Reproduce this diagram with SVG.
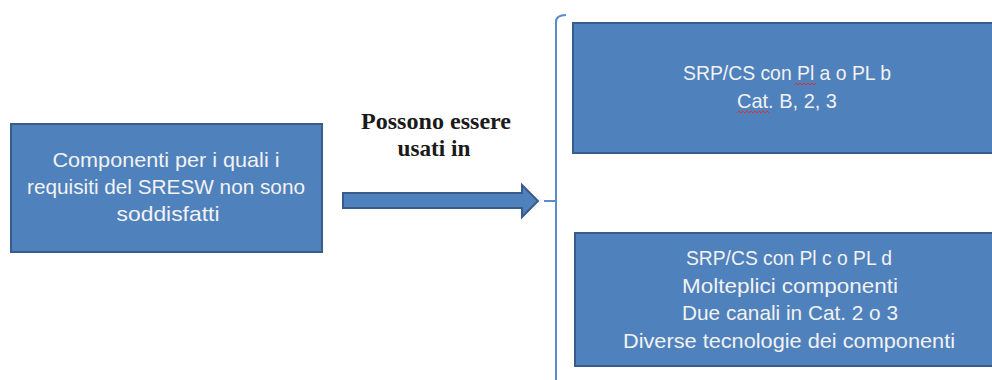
<svg xmlns="http://www.w3.org/2000/svg" width="992" height="380" viewBox="0 0 992 380">
  <style>
    .box { fill: #4f81bd; stroke: #385d8a; stroke-width: 2; }
    .lbl { font-family: "Liberation Sans", Arial, sans-serif; font-size: 21px; fill: #f2f2f2; text-anchor: middle; }
    .cap { font-family: "Liberation Serif", "Times New Roman", serif; font-size: 24px; font-weight: bold; fill: #1a1a1a; text-anchor: middle; }
    .brace { fill: none; stroke: #5b8cc8; stroke-width: 2; }
    .squig { fill: none; stroke: #e03030; stroke-width: 1; }
  </style>
  <rect width="992" height="380" fill="#ffffff"/>

  <g id="source">
    <rect class="box" x="11" y="124" width="311" height="128"/>
    <text class="lbl" x="166" y="167" textLength="227" lengthAdjust="spacingAndGlyphs">Componenti per i quali i</text>
    <text class="lbl" x="166" y="194" textLength="278" lengthAdjust="spacingAndGlyphs">requisiti del SRESW non sono</text>
    <text class="lbl" x="168" y="221" textLength="103" lengthAdjust="spacingAndGlyphs">soddisfatti</text>
  </g>

  <g id="caption">
    <text class="cap" x="436" y="129" textLength="150" lengthAdjust="spacingAndGlyphs">Possono essere</text>
    <text class="cap" x="434" y="156" textLength="73" lengthAdjust="spacingAndGlyphs">usati in</text>
  </g>

  <g id="connectors">
    <polygon class="box" points="343,193 522,193 522,185 538,201 522,217 522,208 343,208"/>
    <path class="brace" d="M566,15 Q556,15 556,22 L556,380 M544,201 L556,201"/>
  </g>

  <g id="target-ab">
    <rect class="box" x="573" y="23" width="430" height="130"/>
    <text class="lbl" x="787" y="80" textLength="208" lengthAdjust="spacingAndGlyphs">SRP/CS con Pl a o PL b</text>
    <text class="lbl" x="787" y="108" textLength="100" lengthAdjust="spacingAndGlyphs">Cat. B, 2, 3</text>
    <path class="squig" d="M794,85 l2,-2 l2,2 l2,-2 l2,2 l2,-2 l2,2 l2,-2 l2,2 l2,-2 l2,2 l2,-2"/>
    <path class="squig" d="M737,113 l2,-2 l2,2 l2,-2 l2,2 l2,-2 l2,2 l2,-2 l2,2 l2,-2 l2,2 l2,-2 l2,2 l2,-2 l2,2 l2,-2 l2,2"/>
  </g>

  <g id="target-cd">
    <rect class="box" x="575" y="233" width="430" height="133"/>
    <text class="lbl" x="789" y="265" textLength="206" lengthAdjust="spacingAndGlyphs">SRP/CS con Pl c o PL d</text>
    <text class="lbl" x="790" y="293" textLength="216" lengthAdjust="spacingAndGlyphs">Molteplici componenti</text>
    <text class="lbl" x="790" y="320" textLength="216" lengthAdjust="spacingAndGlyphs">Due canali in Cat. 2 o 3</text>
    <text class="lbl" x="789" y="348" textLength="332" lengthAdjust="spacingAndGlyphs">Diverse tecnologie dei componenti</text>
  </g>
</svg>
